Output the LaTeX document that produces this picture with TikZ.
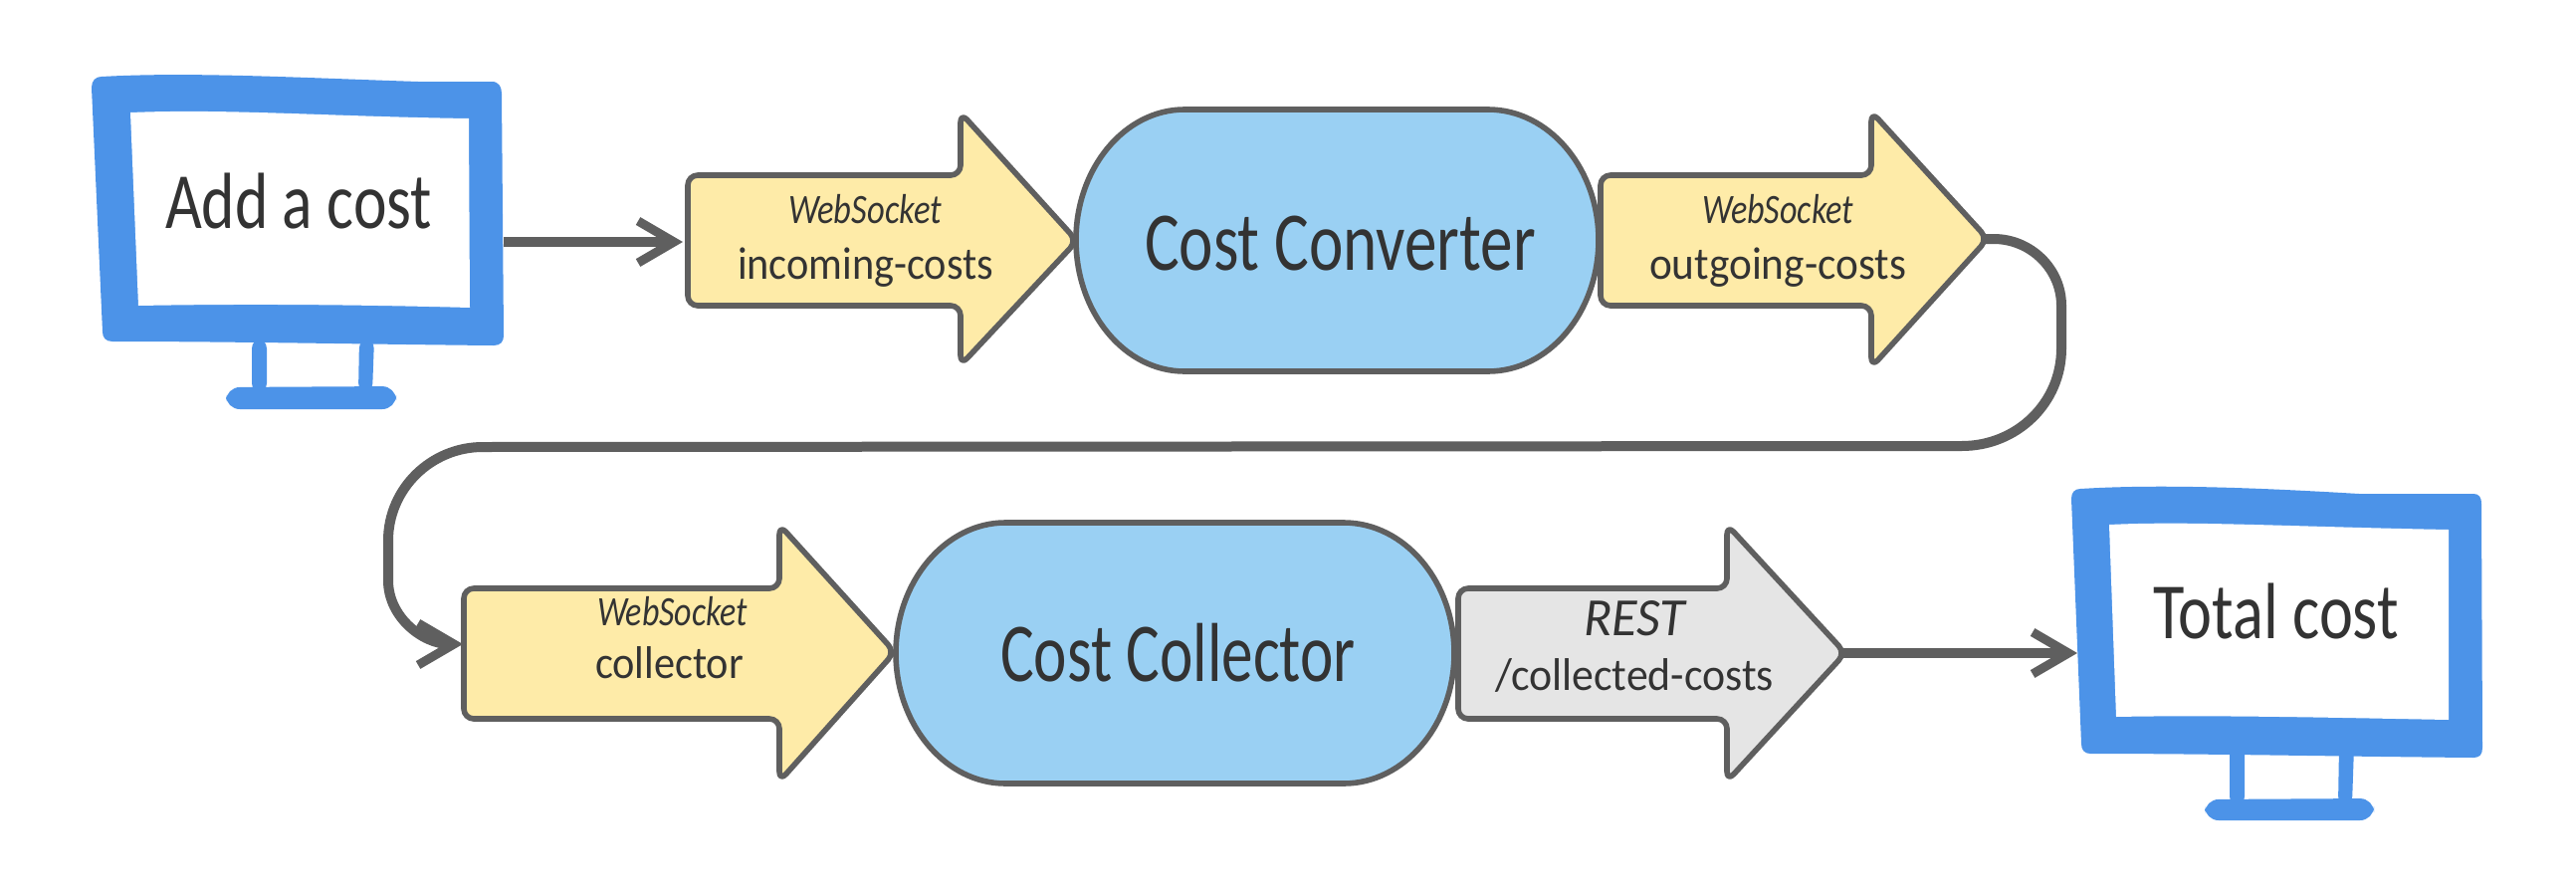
\documentclass[tikz,border=0pt]{standalone}
\usepackage{fontspec}
\setmainfont{Carlito}
\usetikzlibrary{arrows.meta}
\definecolor{ink}{HTML}{333333}
\definecolor{edgegray}{HTML}{5F5F5F}
\definecolor{yellowfill}{HTML}{FEEBA8}
\definecolor{grayfill}{HTML}{E5E5E5}
\definecolor{lightblue}{HTML}{9AD0F3}
\definecolor{monitorblue}{HTML}{4C93E8}
\newcommand{\fitw}[2]{\resizebox{\dimexpr #1pt/2\relax}{\height}{#2}}
\tikzset{
  x=0.5pt,y=-0.5pt,
  lbl/.style={inner sep=0pt,outer sep=0pt,anchor=base west,text=ink},
  pointer/.style={draw=edgegray,line width=2.8pt,rounded corners=5pt,line join=round},
  blob/.style={draw=edgegray,line width=2.8pt,fill=lightblue},
  link/.style={draw=edgegray,line width=5pt,-{Straight Barb[length=18pt,width=21pt,line width=4.5pt]}},
}
\begin{document}
\begin{tikzpicture}
\useasboundingbox (0,0) rectangle (2588,900);
\fill[white] (0,0) rectangle (2588,900);

% anchors of connectors
\coordinate (screenAout) at (506,243);
\coordinate (inTail) at (686,243);
\coordinate (outTip) at (1994,240);
\coordinate (colTail) at (465,647);
\coordinate (restTip) at (1851,656);
\coordinate (screenBin) at (2087,656);

% long connector
\draw[link] (outTip) -- (2003,240) .. controls (2040,240) and (2071,270) .. (2071,307) -- (2071,350)
  .. controls (2071,405) and (2026,448) .. (1971,448) -- (485,449)
  .. controls (433,449) and (390,491) .. (390,543) -- (390,583)
  .. controls (390,620) and (425,647) .. (colTail);
\draw[link] (screenAout) -- (inTail);
\draw[link] (restTip) -- (screenBin);

% monitor A
\fill[monitorblue,rounded corners=5pt] (253,340) rectangle (268,395);
\fill[monitorblue,rounded corners=5pt] (361,340) -- (376,340) -- (374,395) -- (360,395) -- cycle;
\fill[monitorblue,rounded corners=7pt] (227,389) -- (398,388) -- (398,411) -- (227,411) -- cycle;
\fill[monitorblue] (102,77) .. controls (190,72) and (300,78) .. (420,82) -- (494,82)
  .. controls (501,82) and (504,87) .. (504,94) -- (506,337)
  .. controls (506,343) and (503,347) .. (496,347) .. controls (380,346) and (240,343) .. (113,343)
  .. controls (106,343) and (103,339) .. (103,333) -- (92,88)
  .. controls (92,81) and (96,77) .. (102,77) -- cycle;
\fill[white] (131,113) .. controls (230,109) and (330,117) .. (471,119) -- (472,309)
  .. controls (360,306) and (250,305) .. (139,307) -- cycle;
\node[lbl] (addcost) at (166,229) {\fitw{268}{\fontsize{40}{40}\selectfont Add a cost}};

% monitor B
\fill[monitorblue,rounded corners=4pt] (2240,750) rectangle (2255,808);
\fill[monitorblue,rounded corners=4pt] (2350,750) -- (2365,750) -- (2363,808) -- (2349,808) -- cycle;
\fill[monitorblue,rounded corners=7pt] (2215,803) -- (2385,802) -- (2385,824) -- (2215,824) -- cycle;
\fill[monitorblue] (2090,491) .. controls (2170,486) and (2270,490) .. (2370,496) -- (2485,496)
  .. controls (2491,496) and (2493,500) .. (2493,506) -- (2494,751)
  .. controls (2494,758) and (2491,761) .. (2485,761) .. controls (2360,760) and (2220,757) .. (2100,757)
  .. controls (2094,757) and (2091,753) .. (2091,747) -- (2081,501)
  .. controls (2081,495) and (2084,491) .. (2090,491) -- cycle;
\fill[white] (2119,527) .. controls (2200,523) and (2300,529) .. (2460,532) -- (2460,723)
  .. controls (2350,721) and (2230,718) .. (2126,720) -- cycle;
\node[lbl] (totalcost) at (2163,641) {\fitw{247}{\fontsize{40}{40}\selectfont Total cost}};

% pointers
\draw[pointer,fill=yellowfill] (691,176) -- (965,176) -- (965,113) -- (1082,242) -- (965,367) -- (965,307) -- (691,307) -- cycle;
\node[lbl] (wsA) at (792,224) {\fitw{154}{\fontsize{21}{21}\selectfont\itshape WebSocket}};
\node[lbl] (incoming) at (741,280) {\fitw{257}{\fontsize{23}{23}\selectfont incoming-costs}};

\draw[pointer,fill=yellowfill] (1608,176) -- (1880,176) -- (1880,112) -- (1997,240) -- (1880,369) -- (1880,307) -- (1608,307) -- cycle;
\node[lbl] (wsB) at (1710,224) {\fitw{152}{\fontsize{21}{21}\selectfont\itshape WebSocket}};
\node[lbl] (outgoing) at (1657,280) {\fitw{258}{\fontsize{23}{23}\selectfont outgoing-costs}};

\draw[pointer,fill=yellowfill] (466,591) -- (783,591) -- (783,527) -- (899,655) -- (783,785) -- (783,722) -- (466,722) -- cycle;
\node[lbl] (wsC) at (600,628) {\fitw{151}{\fontsize{21}{21}\selectfont\itshape WebSocket}};
\node[lbl] (collector) at (598,681) {\fitw{149}{\fontsize{23}{23}\selectfont collector}};

\draw[pointer,fill=grayfill] (1465,591) -- (1735,591) -- (1735,527) -- (1854,656) -- (1735,785) -- (1735,722) -- (1465,722) -- cycle;
\node[lbl] (rest) at (1591,638) {\fitw{102}{\fontsize{27}{27}\selectfont\itshape REST}};
\node[lbl] (collected) at (1502,693) {\fitw{280}{\fontsize{23}{23}\selectfont /collected-costs}};

% blobs
\draw[blob] (1190,110) -- (1495,110) .. controls (1556,110) and (1606,169) .. (1606,241)
  .. controls (1606,314) and (1556,373) .. (1495,373) -- (1190,373)
  .. controls (1130,373) and (1081,314) .. (1081,241)
  .. controls (1081,169) and (1130,110) .. (1190,110) -- cycle;
\node[lbl] (converter) at (1150,271) {\fitw{393}{\fontsize{42}{42}\selectfont Cost Converter}};

\draw[blob] (1010,525) -- (1350,525) .. controls (1411,525) and (1461,584) .. (1461,656)
  .. controls (1461,728) and (1411,787) .. (1350,787) -- (1010,787)
  .. controls (950,787) and (900,728) .. (900,656)
  .. controls (900,584) and (950,525) .. (1010,525) -- cycle;
\node[lbl] (collectorb) at (1005,684) {\fitw{357}{\fontsize{42}{42}\selectfont Cost Collector}};
\end{tikzpicture}
\end{document}
